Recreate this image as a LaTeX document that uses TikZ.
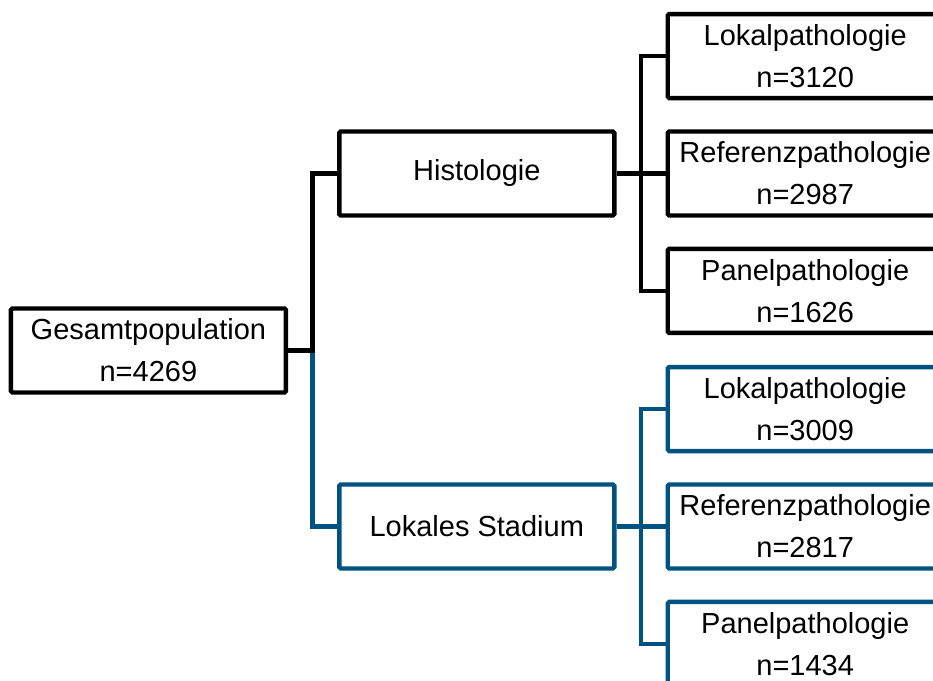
\documentclass[tikz,border=0pt]{standalone}
\usepackage{fontspec}
\setmainfont{Liberation Sans}
\usepackage{tikz}
\usetikzlibrary{positioning}
\definecolor{stblue}{RGB}{0,82,128}

\begin{document}
\begin{tikzpicture}[
  x=1pt,y=1pt,
  box/.style={draw=black,line width=4.4pt,rounded corners=1.5pt,
              minimum width=275pt,minimum height=84pt,
              align=center,font=\fontsize{29}{42}\selectfont,inner sep=3pt},
  bluebox/.style={box,draw=stblue},
  link/.style={line width=4.4pt,black},
  bluelink/.style={link,stblue},
  node distance=29pt and 49pt
]
\useasboundingbox (0,0) rectangle (933,680);

\node[box] (gesamt) at (148.4,329.5) {Gesamtpopulation\\n=4269};
\node[box,right=49pt of gesamt,yshift=177pt] (hist) {Histologie};
\node[bluebox,right=49pt of gesamt,yshift=-176pt] (lokal) {Lokales Stadium};

% histologie
\node[box,right=of hist] (hreferenz) {Referenzpathologie\\n=2987};
\node[box,above=of hreferenz] (hlokal) {Lokalpathologie\\n=3120};
\node[box,below=of hreferenz] (hpanel) {Panelpathologie\\n=1626};

% lokales stadium
\node[bluebox,right=of lokal] (lreferenz) {Referenzpathologie\\n=2817};
\node[bluebox,above=of lreferenz] (llokal) {Lokalpathologie\\n=3009};
\node[bluebox,below=of lreferenz] (lpanel) {Panelpathologie\\n=1434};

\coordinate[right=24.3pt of gesamt] (split);

\draw[bluelink] (split) |- (lokal.west);
\draw[link] (gesamt.east) -- (split) |- (hist.west);

\draw[link] (hist) -- (hreferenz);
\draw[link] (hlokal.west) -- ++(-24.3,0) |- (hpanel.west);

\draw[bluelink] (lokal) -- (lreferenz);
\draw[bluelink] (llokal.west) -- ++(-24.3,0) |- (lpanel.west);
\end{tikzpicture}
\end{document}
